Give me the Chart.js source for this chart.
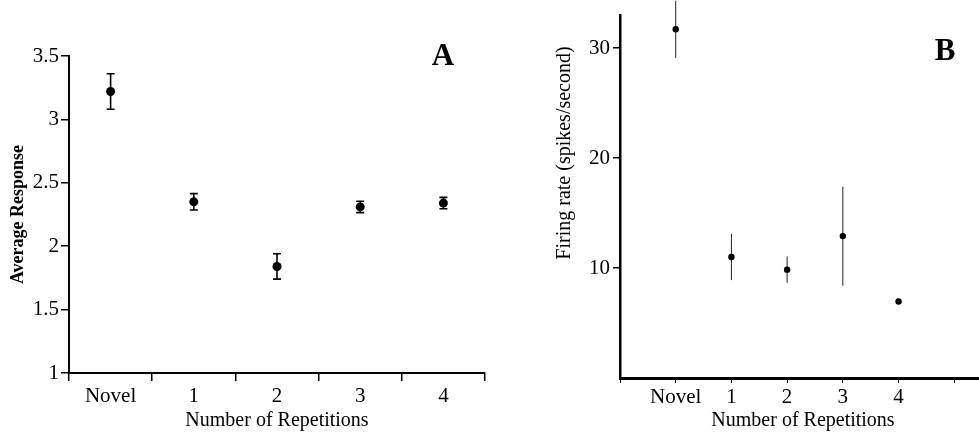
<!DOCTYPE html>
<html>
<head>
<meta charset="utf-8">
<script src="https://cdn.jsdelivr.net/npm/chart.js@4/dist/chart.umd.min.js"></script>
<style>
    html, body { margin: 0; padding: 0; background: #ffffff; overflow: hidden; }
    body { width: 979px; height: 433px; position: relative; }
    canvas { position: absolute; top: 0; }
    #chartA { left: 0; }
    #chartB { left: 480px; }
</style>
</head>
<body>
<canvas id="chartA" width="500" height="433"></canvas>
<canvas id="chartB" width="510" height="433"></canvas>
<script>
// ================= DATA =================

const categories = ["Novel", "1", "2", "3", "4"];

// Panel A: average response, mean and standard error
const responseMean = [3.22, 2.35, 1.84, 2.31, 2.34];
const responseErr = [0.14, 0.065, 0.1, 0.045, 0.045];
const responseTicks = [1, 1.5, 2, 2.5, 3, 3.5];

// Panel B: firing rate (spikes/second), mean and error
const repetitionIndex = [0, 1, 2, 3, 4];
const firingMean = [31.7, 11.0, 9.85, 12.9, 6.96];
const firingErr = [2.6, 2.1, 1.2, 4.5, 0];
const firingTicks = [10, 20, 30];

const serif = "'Liberation Serif', 'Times New Roman', serif";

Chart.defaults.font.family = serif;
Chart.defaults.color = "#000000";


// ================= PLUGINS =================

// Vertical error bars drawn through the chart's y scale
const errorBars = {

    id: "errorBars",

    beforeDatasetsDraw(chart, args, opts) {

        const { ctx } = chart;
        const yScale = chart.scales.y;
        const meta = chart.getDatasetMeta(0);

        ctx.save();
        ctx.strokeStyle = opts.color;
        ctx.lineWidth = opts.width;

        meta.data.forEach((point, i) => {

            const m = opts.means[i];
            const e = opts.errors[i];

            if (!e) return;

            const top = yScale.getPixelForValue(m + e);
            const bottom = yScale.getPixelForValue(m - e);

            ctx.beginPath();
            ctx.moveTo(point.x, top);
            ctx.lineTo(point.x, bottom);

            if (opts.cap) {
                ctx.moveTo(point.x - opts.cap, top);
                ctx.lineTo(point.x + opts.cap, top);
                ctx.moveTo(point.x - opts.cap, bottom);
                ctx.lineTo(point.x + opts.cap, bottom);
            }

            ctx.stroke();
        });

        ctx.restore();
    }
};

// Panel letter and free-standing texts
const panelText = {

    id: "panelText",

    afterDraw(chart, args, opts) {

        const { ctx } = chart;

        ctx.save();
        ctx.fillStyle = "#000000";
        ctx.textAlign = "center";
        ctx.textBaseline = "middle";

        ctx.font = "bold 31px " + serif;
        ctx.fillText(opts.letter, opts.letterX, opts.letterY);

        if (opts.yTitle) {
            ctx.font = opts.yTitleFont;
            ctx.translate(opts.yTitleX, opts.yTitleY);
            ctx.rotate(-Math.PI / 2);
            ctx.fillText(opts.yTitle, 0, 0);
        }

        ctx.restore();
    }
};


// ================= PANEL A =================

new Chart(
    document.getElementById("chartA"),
    {
        type: "line",

        data: {
            labels: categories,

            datasets: [
                {
                    data: responseMean,
                    showLine: false,
                    pointRadius: 4.5,
                    pointBackgroundColor: "#000000",
                    pointBorderColor: "#000000",
                    pointBorderWidth: 0
                }
            ]
        },

        options: {
            responsive: false,
            animation: false,
            devicePixelRatio: 1,

            layout: {
                padding: {
                    top: 56,
                    right: 15,
                    left: 0,
                    bottom: 0
                }
            },

            plugins: {
                legend: { display: false },
                tooltip: { enabled: false },

                errorBars: {
                    means: responseMean,
                    errors: responseErr,
                    color: "#000000",
                    width: 1.6,
                    cap: 4
                },

                panelText: {
                    letter: "A",
                    letterX: 443,
                    letterY: 57
                }
            },

            scales: {
                x: {
                    type: "category",
                    offset: true,
                    afterFit(scale) { scale.height = 60; },

                    grid: {
                        offset: true,
                        drawOnChartArea: false,
                        drawTicks: true,
                        tickLength: 8,
                        color: "#000000",
                        lineWidth: 1.5
                    },

                    border: {
                        color: "#000000",
                        width: 2
                    },

                    ticks: {
                        padding: 5,
                        font: { size: 21, lineHeight: 1 }
                    },

                    title: {
                        display: true,
                        text: "Number of Repetitions",
                        font: { size: 20, lineHeight: 1 },
                        padding: { top: 0, bottom: 2 }
                    }
                },

                y: {
                    min: 1,
                    max: 3.5,
                    afterFit(scale) { scale.width = 69; },
                    afterBuildTicks(scale) {
                        scale.ticks = responseTicks.map(v => ({ value: v }));
                    },

                    grid: {
                        drawOnChartArea: false,
                        drawTicks: true,
                        tickLength: 8,
                        color: "#000000",
                        lineWidth: 1.5
                    },

                    border: {
                        color: "#000000",
                        width: 2
                    },

                    ticks: {
                        padding: 2,
                        font: { size: 21, lineHeight: 1 },
                        callback: value => String(value)
                    },

                    title: {
                        display: true,
                        text: "Average Response",
                        font: { size: 18, lineHeight: 1, weight: "bold" },
                        padding: { top: 9, bottom: 0 }
                    }
                }
            }
        },

        plugins: [
            errorBars,
            panelText
        ]
    }
);


// ================= PANEL B =================

new Chart(
    document.getElementById("chartB"),
    {
        type: "scatter",

        data: {
            datasets: [
                {
                    data: repetitionIndex.map((x, i) => ({
                        x: x,
                        y: firingMean[i]
                    })),
                    pointRadius: 3.2,
                    pointBackgroundColor: "#000000",
                    pointBorderColor: "#000000",
                    pointBorderWidth: 0
                }
            ]
        },

        options: {
            responsive: false,
            animation: false,
            devicePixelRatio: 1,

            layout: {
                padding: {
                    top: 15,
                    right: 0,
                    left: 0,
                    bottom: 0
                }
            },

            plugins: {
                legend: { display: false },
                tooltip: { enabled: false },

                errorBars: {
                    means: firingMean,
                    errors: firingErr,
                    color: "#222222",
                    width: 1,
                    cap: 0
                },

                panelText: {
                    letter: "B",
                    letterX: 465,
                    letterY: 52,
                    yTitle: "Firing rate (spikes/second)",
                    yTitleFont: "20px " + serif,
                    yTitleX: 85,
                    yTitleY: 153
                }
            },

            scales: {
                x: {
                    type: "linear",
                    min: -1,
                    max: 5.57,
                    afterFit(scale) { scale.height = 55; },
                    afterBuildTicks(scale) {
                        scale.ticks = [-1, 0, 1, 2, 3, 4, 5].map(v => ({ value: v }));
                    },

                    grid: {
                        drawOnChartArea: false,
                        drawTicks: true,
                        tickLength: 5,
                        color: "#000000",
                        lineWidth: 1
                    },

                    border: {
                        color: "#000000",
                        width: 3
                    },

                    ticks: {
                        padding: 4,
                        autoSkip: false,
                        maxRotation: 0,
                        font: { size: 21, lineHeight: 1 },
                        callback: value => categories[value] ?? ""
                    },

                    title: {
                        display: true,
                        text: "Number of Repetitions",
                        font: { size: 20, lineHeight: 1 },
                        padding: { top: 0, bottom: 2 }
                    }
                },

                y: {
                    min: 0,
                    max: 33,
                    afterFit(scale) { scale.width = 140; },
                    afterBuildTicks(scale) {
                        scale.ticks = firingTicks.map(v => ({ value: v }));
                    },

                    grid: {
                        drawOnChartArea: false,
                        drawTicks: true,
                        tickLength: 7,
                        color: "#000000",
                        lineWidth: 1.5
                    },

                    border: {
                        color: "#000000",
                        width: 2.5
                    },

                    ticks: {
                        padding: 3,
                        font: { size: 21, lineHeight: 1 }
                    }
                }
            }
        },

        plugins: [
            errorBars,
            panelText
        ]
    }
);
</script>
</body>
</html>
